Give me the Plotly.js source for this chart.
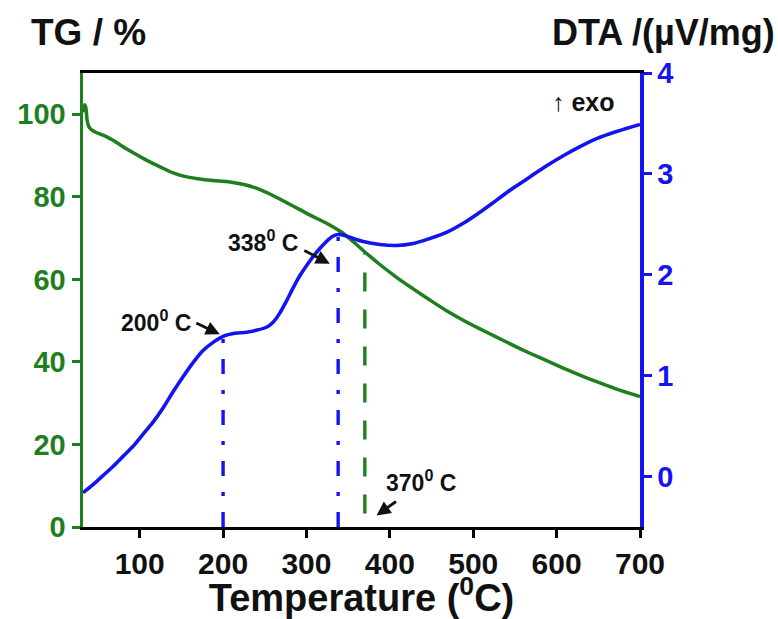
<!DOCTYPE html>
<html>
<head>
<meta charset="utf-8">
<script src="https://cdn.plot.ly/plotly-3.0.1.min.js"></script>
<style>html,body{margin:0;padding:0;background:#fff;}#chart{width:778px;height:619px;}</style>
</head>
<body>
<div id="chart"></div>
<script>
// TG curve (left axis, %)
var tgTemp = [32, 34, 35.5, 37, 39, 42, 50, 60, 68, 85, 108, 125, 140, 155, 170, 185, 208, 225, 240, 258, 276, 292, 308, 324, 340, 354, 368, 388, 408, 428, 448, 468, 488, 508, 528, 548, 568, 588, 608, 628, 648, 672, 700];
var tgVal  = [100.5, 102.3, 101.5, 98.5, 97.0, 96.3, 95.4, 94.6, 93.7, 91.5, 88.9, 87.2, 85.8, 84.9, 84.4, 84.0, 83.6, 83.0, 82.1, 80.5, 78.6, 76.9, 75.2, 73.6, 71.7, 69.5, 67.0, 63.6, 60.5, 57.7, 55.0, 52.4, 50.1, 48.0, 46.0, 44.0, 42.1, 40.3, 38.5, 36.8, 35.2, 33.4, 31.6];

// DTA curve (right axis, µV/mg)
var dtaTemp = [32, 44, 56, 68, 80, 92, 104, 116, 128, 140, 152, 164, 176, 188, 200, 214, 228, 240, 252, 260, 268, 276, 284, 292, 300, 308, 316, 324, 331, 338, 346, 356, 368, 388, 408, 428, 448, 468, 488, 508, 528, 548, 568, 588, 608, 628, 648, 672, 700];
var dtaVal  = [-0.16, -0.08, 0.01, 0.10, 0.20, 0.30, 0.42, 0.54, 0.68, 0.84, 0.99, 1.13, 1.25, 1.33, 1.39, 1.42, 1.43, 1.45, 1.48, 1.53, 1.62, 1.74, 1.87, 1.99, 2.09, 2.18, 2.26, 2.33, 2.38, 2.40, 2.39, 2.36, 2.33, 2.30, 2.29, 2.31, 2.36, 2.42, 2.51, 2.62, 2.74, 2.86, 2.97, 3.08, 3.18, 3.27, 3.35, 3.42, 3.49];

// marked temperatures
var dtaPeakTemp = [200, 338];
var dtaPeakVal  = [1.39, 2.40];
var tgMarkTemp  = 370;
var tgMarkTop   = 66.4;
var tgMarkBottom = 3.3;
var dtaAxisBottom = -0.5;

var xTicks = [100, 200, 300, 400, 500, 600, 700];
var tgTicks = [0, 20, 40, 60, 80, 100];
var dtaTicks = [0, 1, 2, 3, 4];

var GREEN = '#1f7f1f';
var BLUE = '#1414ee';
var FONT = 'Arial, "Liberation Sans", sans-serif';

var traces = [
  {x: tgTemp, y: tgVal, type: 'scatter', mode: 'lines', yaxis: 'y',
   line: {color: GREEN, width: 3.5, shape: 'spline', smoothing: 0.8}, hoverinfo: 'skip'},
  {x: dtaTemp, y: dtaVal, type: 'scatter', mode: 'lines', yaxis: 'y2',
   line: {color: BLUE, width: 3.6, shape: 'spline', smoothing: 0.8}, hoverinfo: 'skip'}
];
dtaPeakTemp.forEach(function (t, i) {
  traces.push({x: [t, t], y: [dtaAxisBottom, dtaPeakVal[i]], type: 'scatter', mode: 'lines', yaxis: 'y2',
    line: {color: BLUE, width: 3.4, dash: '15px,16px,4px,16px'}, hoverinfo: 'skip'});
});
traces.push({x: [tgMarkTemp, tgMarkTemp], y: [tgMarkBottom, tgMarkTop], type: 'scatter', mode: 'lines', yaxis: 'y',
  line: {color: GREEN, width: 3.4, dash: '19px,18px'}, hoverinfo: 'skip'});

var lblFont = {family: FONT, size: 23, color: '#111', weight: 'bold'};

var layout = {
  width: 778, height: 619,
  margin: {l: 83, r: 138, t: 73, b: 92, pad: 0},
  paper_bgcolor: '#fff', plot_bgcolor: '#fff',
  showlegend: false,
  xaxis: {
    range: [32, 700], tickvals: xTicks, ticktext: xTicks.map(String),
    showgrid: false, zeroline: false,
    showline: true, linecolor: '#000', linewidth: 3, mirror: true,
    ticks: 'outside', ticklen: 8, tickwidth: 3, tickcolor: '#000',
    tickfont: {family: FONT, size: 30, color: '#111', weight: 'bold'},
    title: {text: 'Temperature (<sup>0</sup>C)', standoff: 9,
            font: {family: FONT, size: 38, color: '#111', weight: 'bold'}}
  },
  yaxis: {
    range: [0, 110], tickvals: tgTicks, ticktext: tgTicks.map(String),
    showgrid: false, zeroline: false,
    showline: true, linecolor: GREEN, linewidth: 3.5,
    ticks: 'outside', ticklen: 8, tickwidth: 3, tickcolor: GREEN,
    tickfont: {family: FONT, size: 29, color: GREEN, weight: 'bold'}
  },
  yaxis2: {
    range: [-0.5, 4], tickvals: dtaTicks, ticktext: dtaTicks.map(String),
    overlaying: 'y', side: 'right', anchor: 'x',
    showgrid: false, zeroline: false,
    showline: true, linecolor: BLUE, linewidth: 3.5,
    ticks: 'outside', ticklen: 8, tickwidth: 3, tickcolor: BLUE,
    tickfont: {family: FONT, size: 29, color: BLUE, weight: 'bold'}
  },
  annotations: [
    {xref: 'paper', yref: 'paper', x: -0.097, y: 1.09, xanchor: 'left', yanchor: 'middle',
     text: 'TG / %', showarrow: false, font: {family: FONT, size: 37, color: '#111', weight: 'bold'}},
    {xref: 'paper', yref: 'paper', x: 1.246, y: 1.09, xanchor: 'right', yanchor: 'middle',
     text: 'DTA /(µV/mg)', showarrow: false, font: {family: FONT, size: 36, color: '#111', weight: 'bold'}},
    {xref: 'x', yref: 'y2', x: 673, y: 3.71, xanchor: 'right', yanchor: 'middle',
     text: '↑ exo', showarrow: false, font: {family: FONT, size: 25, color: '#111', weight: 'bold'}},
    {xref: 'x', yref: 'y2', x: 164, y: 1.54, xanchor: 'right', yanchor: 'middle',
     text: '200<sup>0</sup> C', showarrow: false, font: lblFont},
    {xref: 'x', yref: 'y2', x: 292, y: 2.33, xanchor: 'right', yanchor: 'middle',
     text: '338<sup>0</sup> C', showarrow: false, font: lblFont},
    {xref: 'x', yref: 'y', x: 393, y: 11.1, xanchor: 'left', yanchor: 'middle',
     text: '370<sup>0</sup> C', showarrow: false, font: lblFont},
    {xref: 'x', yref: 'y2', x: 196, y: 1.41, text: '', showarrow: true, arrowhead: 2, arrowsize: 1,
     arrowwidth: 2.8, arrowcolor: '#111', ax: -25, ay: -12, standoff: 0},
    {xref: 'x', yref: 'y2', x: 328, y: 2.11, text: '', showarrow: true, arrowhead: 2, arrowsize: 1,
     arrowwidth: 2.8, arrowcolor: '#111', ax: -27, ay: -14, standoff: 0},
    {xref: 'x', yref: 'y', x: 384, y: 2.8, text: '', showarrow: true, arrowhead: 2, arrowsize: 1,
     arrowwidth: 2.8, arrowcolor: '#111', ax: 21, ay: -15, standoff: 0}
  ]
};

Plotly.newPlot('chart', traces, layout, {staticPlot: true, displayModeBar: false});
</script>
</body>
</html>
